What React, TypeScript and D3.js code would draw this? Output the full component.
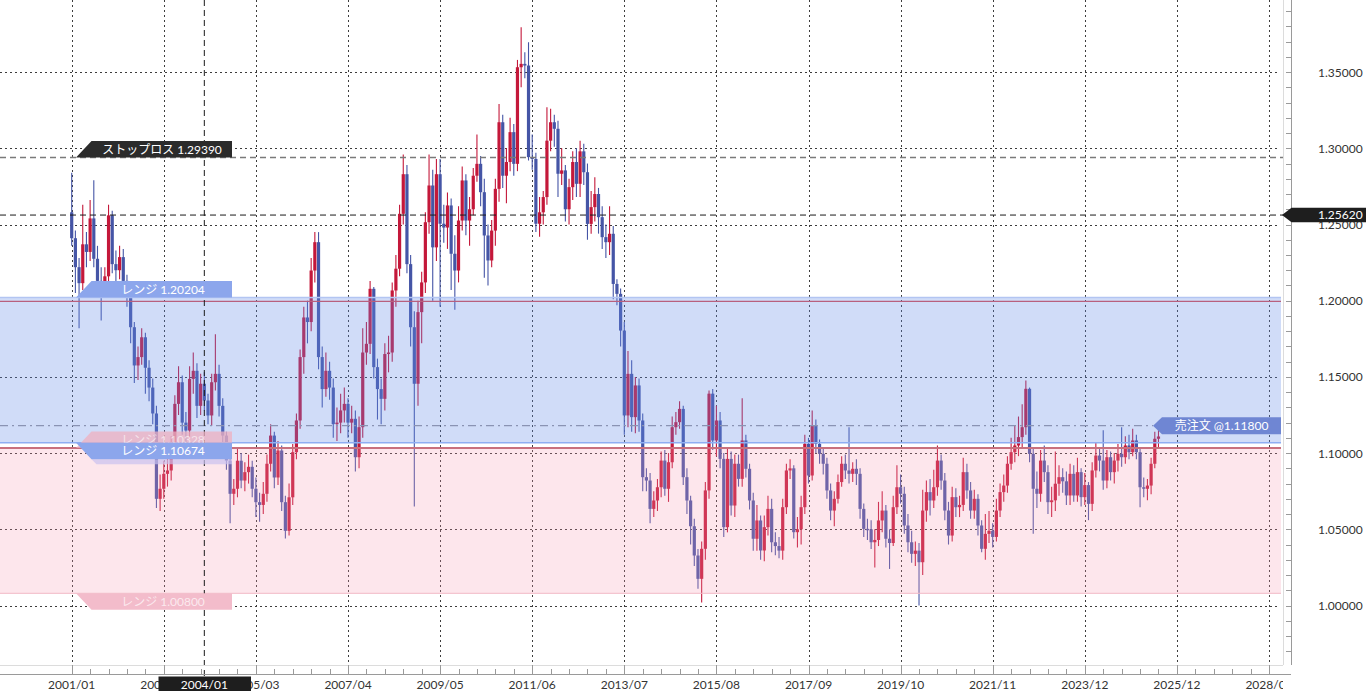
import React from "react";
import * as d3 from "d3";

// ---- data (monthly candles, 2001/01 ...) ----
const firstOpen = 1.258;
const closes = [
  1.241, 1.222, 1.2115, 1.237, 1.232, 1.254, 1.2275, 1.213, 1.21, 1.216,
  1.256, 1.224, 1.22, 1.2286, 1.213, 1.203, 1.1826, 1.1575, 1.163, 1.176,
  1.156, 1.143, 1.126, 1.07, 1.0766, 1.0864, 1.0886, 1.1028, 1.1323, 1.1465,
  1.12, 1.1148, 1.1487, 1.154, 1.131, 1.1455, 1.1345, 1.1247, 1.1465, 1.152,
  1.131, 1.1115, 1.095, 1.0733, 1.0766, 1.095, 1.082, 1.0875, 1.091, 1.0766,
  1.0678, 1.066, 1.0733, 1.093, 1.1115, 1.084, 1.1017, 1.0678, 1.049, 1.071,
  1.1006, 1.1214, 1.163, 1.189, 1.186, 1.2198, 1.2384, 1.163, 1.142, 1.154,
  1.143, 1.119, 1.12, 1.128, 1.1323, 1.12, 1.1225, 1.0973, 1.117, 1.166,
  1.1717, 1.2078, 1.1564, 1.142, 1.1356, 1.165, 1.166, 1.2067, 1.221, 1.257,
  1.283, 1.224, 1.1826, 1.1455, 1.1925, 1.212, 1.2515, 1.2756, 1.235, 1.283,
  1.2505, 1.248, 1.2625, 1.2308, 1.2198, 1.2526, 1.2789, 1.2526, 1.26, 1.282,
  1.2898, 1.2712, 1.2428, 1.2264, 1.246, 1.2734, 1.3171, 1.282, 1.291, 1.3106,
  1.2898, 1.3532, 1.3554, 1.3543, 1.2942, 1.293, 1.2505, 1.258, 1.268, 1.305,
  1.3171, 1.3128, 1.2833, 1.2855, 1.26, 1.2745, 1.291, 1.2767, 1.298, 1.2843,
  1.2504, 1.2614, 1.27, 1.2548, 1.2417, 1.2384, 1.2439, 1.211, 1.2045, 1.1804,
  1.1247, 1.152, 1.1236, 1.1444, 1.1214, 1.0842, 1.082, 1.0634, 1.0689, 1.0776,
  1.0951, 1.0766, 1.094, 1.117, 1.1203, 1.129, 1.0842, 1.0689, 1.052, 1.0328,
  1.0175, 1.0372, 1.0755, 1.139, 1.1083, 1.1214, 1.0962, 1.0514, 1.0962, 1.0656,
  1.093, 1.0831, 1.1083, 1.0897, 1.0689, 1.0438, 1.0558, 1.0361, 1.0514, 1.0634,
  1.0415, 1.039, 1.036, 1.0645, 1.0886, 1.09, 1.0481, 1.05, 1.0645, 1.1061,
  1.0853, 1.1181, 1.1061, 1.0995, 1.093, 1.0755, 1.0623, 1.07, 1.081, 1.093,
  1.0886, 1.0864, 1.0897, 1.0864, 1.0634, 1.0503, 1.05, 1.0415, 1.043, 1.0558,
  1.0623, 1.0438, 1.041, 1.0645, 1.0776, 1.0733, 1.0525, 1.0415, 1.0339, 1.036,
  1.0284, 1.0623, 1.0744, 1.0689, 1.0776, 1.0951, 1.082, 1.0623, 1.0459, 1.0711,
  1.0645, 1.066, 1.0875, 1.0755, 1.0623, 1.07, 1.0525, 1.0372, 1.047, 1.049,
  1.045, 1.0623, 1.0744, 1.0787, 1.093, 1.1006, 1.105, 1.1105, 1.117, 1.1422,
  1.0995, 1.0766, 1.0733, 1.0951, 1.0875, 1.0678, 1.069, 1.0799, 1.0842, 1.0815,
  1.0722, 1.0864, 1.0722, 1.0875, 1.0711, 1.079, 1.0667, 1.0886, 1.0984, 1.0951,
  1.082, 1.0973, 1.0875, 1.0951, 1.0995, 1.0973, 1.105, 1.1006, 1.1083, 1.1006,
  1.0776, 1.0766, 1.0787, 1.093, 1.1094, 1.1109,
];
const highs = [
  1.284, 1.246, 1.228, 1.263, 1.245, 1.266, 1.279, 1.236, 1.222, 1.222,
  1.263, 1.259, 1.233, 1.236, 1.234, 1.217, 1.205, 1.186, 1.17, 1.182,
  1.179, 1.161, 1.149, 1.131, 1.086, 1.095, 1.101, 1.111, 1.138, 1.157,
  1.151, 1.127, 1.157, 1.166, 1.159, 1.152, 1.153, 1.139, 1.152, 1.178,
  1.158, 1.136, 1.114, 1.099, 1.083, 1.104, 1.1, 1.094, 1.099, 1.095,
  1.084, 1.074, 1.081, 1.099, 1.119, 1.114, 1.108, 1.105, 1.072, 1.08,
  1.106, 1.126, 1.168, 1.196, 1.2, 1.228, 1.245, 1.245, 1.17, 1.166,
  1.16, 1.149, 1.13, 1.139, 1.143, 1.136, 1.131, 1.128, 1.124, 1.182,
  1.186, 1.213, 1.209, 1.162, 1.149, 1.172, 1.177, 1.212, 1.23, 1.263,
  1.296, 1.289, 1.23, 1.193, 1.2, 1.219, 1.258, 1.296, 1.286, 1.293,
  1.293, 1.263, 1.271, 1.267, 1.243, 1.262, 1.288, 1.283, 1.268, 1.287,
  1.309, 1.295, 1.28, 1.25, 1.253, 1.28, 1.329, 1.322, 1.3, 1.32,
  1.316, 1.358, 1.3795, 1.363, 1.3696, 1.309, 1.297, 1.268, 1.272, 1.327,
  1.326, 1.322, 1.318, 1.3, 1.289, 1.28, 1.298, 1.3, 1.305, 1.303,
  1.29, 1.272, 1.281, 1.274, 1.262, 1.25, 1.262, 1.249, 1.214, 1.208,
  1.186, 1.167, 1.161, 1.15, 1.149, 1.126, 1.09, 1.087, 1.075, 1.083,
  1.101, 1.102, 1.1, 1.124, 1.127, 1.134, 1.131, 1.09, 1.072, 1.057,
  1.037, 1.042, 1.081, 1.141, 1.142, 1.131, 1.127, 1.1, 1.104, 1.101,
  1.099, 1.099, 1.136, 1.112, 1.093, 1.074, 1.066, 1.059, 1.059, 1.072,
  1.07, 1.048, 1.045, 1.07, 1.093, 1.096, 1.092, 1.058, 1.072, 1.112,
  1.11, 1.128, 1.122, 1.109, 1.103, 1.097, 1.08, 1.075, 1.086, 1.098,
  1.099, 1.117, 1.094, 1.096, 1.09, 1.067, 1.057, 1.056, 1.05, 1.068,
  1.075, 1.066, 1.05, 1.072, 1.092, 1.086, 1.078, 1.06, 1.049, 1.042,
  1.041, 1.076, 1.082, 1.083, 1.089, 1.105, 1.099, 1.087, 1.068, 1.078,
  1.077, 1.072, 1.097, 1.093, 1.081, 1.076, 1.073, 1.056, 1.06, 1.062,
  1.054, 1.07, 1.08, 1.086, 1.098, 1.11, 1.118, 1.124, 1.132, 1.1476,
  1.143, 1.104, 1.088, 1.102, 1.105, 1.092, 1.078, 1.101, 1.092, 1.09,
  1.088, 1.093, 1.092, 1.097, 1.09, 1.087, 1.081, 1.094, 1.107, 1.104,
  1.115, 1.102, 1.101, 1.1, 1.106, 1.117, 1.111, 1.112, 1.116, 1.112,
  1.104, 1.084, 1.083, 1.097, 1.114, 1.116,
];
const lows = [
  1.236, 1.205, 1.182, 1.207, 1.222, 1.226, 1.222, 1.206, 1.187, 1.205,
  1.207, 1.218, 1.211, 1.214, 1.207, 1.196, 1.172, 1.146, 1.148, 1.158,
  1.139, 1.134, 1.119, 1.064, 1.062, 1.07, 1.078, 1.082, 1.099, 1.125,
  1.112, 1.105, 1.11, 1.139, 1.123, 1.125, 1.128, 1.119, 1.118, 1.141,
  1.124, 1.104, 1.089, 1.054, 1.066, 1.071, 1.077, 1.075, 1.08, 1.071,
  1.058, 1.055, 1.06, 1.068, 1.088, 1.077, 1.079, 1.062, 1.044, 1.046,
  1.066, 1.096, 1.116, 1.152, 1.172, 1.18, 1.212, 1.155, 1.13, 1.137,
  1.135, 1.11, 1.108, 1.113, 1.12, 1.11, 1.113, 1.088, 1.09, 1.11,
  1.158, 1.165, 1.149, 1.122, 1.119, 1.128, 1.153, 1.16, 1.196, 1.216,
  1.25, 1.218, 1.17, 1.065, 1.131, 1.172, 1.205, 1.244, 1.2, 1.226,
  1.196, 1.238, 1.234, 1.207, 1.194, 1.212, 1.246, 1.243, 1.236, 1.256,
  1.278, 1.262, 1.215, 1.21, 1.222, 1.236, 1.265, 1.274, 1.264, 1.285,
  1.282, 1.285, 1.34, 1.346, 1.292, 1.286, 1.245, 1.242, 1.25, 1.263,
  1.298, 1.301, 1.268, 1.276, 1.252, 1.25, 1.266, 1.268, 1.268, 1.276,
  1.24, 1.244, 1.252, 1.244, 1.234, 1.228, 1.23, 1.201, 1.197, 1.17,
  1.112, 1.117, 1.114, 1.113, 1.114, 1.075, 1.075, 1.054, 1.058, 1.062,
  1.071, 1.072, 1.068, 1.09, 1.112, 1.116, 1.079, 1.06, 1.04, 1.026,
  1.011, 1.002, 1.03, 1.07, 1.102, 1.098, 1.09, 1.045, 1.048, 1.059,
  1.058, 1.078, 1.078, 1.084, 1.063, 1.036, 1.036, 1.03, 1.029, 1.046,
  1.035, 1.033, 1.031, 1.03, 1.06, 1.083, 1.044, 1.038, 1.04, 1.06,
  1.08, 1.082, 1.1, 1.093, 1.086, 1.07, 1.056, 1.052, 1.067, 1.078,
  1.083, 1.08, 1.081, 1.079, 1.057, 1.045, 1.043, 1.037, 1.025, 1.039,
  1.048, 1.038, 1.024, 1.039, 1.06, 1.067, 1.047, 1.035, 1.028, 1.026,
  1.0, 1.02, 1.055, 1.059, 1.064, 1.072, 1.076, 1.056, 1.04, 1.042,
  1.058, 1.058, 1.062, 1.07, 1.057, 1.057, 1.046, 1.035, 1.03, 1.041,
  1.038, 1.042, 1.058, 1.068, 1.074, 1.089, 1.094, 1.098, 1.103, 1.112,
  1.094, 1.047, 1.064, 1.068, 1.081, 1.06, 1.058, 1.062, 1.072, 1.074,
  1.066, 1.066, 1.068, 1.068, 1.065, 1.066, 1.056, 1.062, 1.084, 1.088,
  1.076, 1.077, 1.082, 1.08, 1.088, 1.091, 1.093, 1.096, 1.098, 1.096,
  1.0645, 1.071, 1.069, 1.073, 1.09, 1.104,
];

const xTickLabels = [
  "2001/01", "2003/02", "2005/03", "2007/04", "2009/05", "2011/06", "2013/07",
  "2015/08", "2017/09", "2019/10", "2021/11", "2023/12", "2025/12", "2028/01",
];
const yTickValues = [1.0, 1.05, 1.1, 1.15, 1.2, 1.25, 1.3, 1.35];

const stopLoss = 1.2939;
const crossPrice = 1.2562;
const crossSlot = 36;
const crossDate = "2004/01";
const rangeBlue = [1.10674, 1.20204];
const rangePink = [1.008, 1.10328];
const rangeMark = 1.1995;
const sellOrder = 1.118;

// ---- layout ----
const W = 1366;
const H = 691;
const plotRight = 1283;
const plotBottom = 665;
const axisX = 1291;
const axisY = 674;
const slotsPerTick = 25;

const RED = "#c4183a";
const BLUE = "#4555a6";
const FONT = "Lato, 'Noto Sans CJK JP', sans-serif";

export default function App() {
  const x = d3.scaleLinear().domain([0, 325]).range([71.7, 1269]);
  const y = d3.scaleLinear().domain([1.0, 1.35]).range([605.5, 72.1]);

  const candles = closes.map((c, i) => {
    const o = i === 0 ? firstOpen : closes[i - 1];
    const h = Math.max(highs[i], o, c);
    const l = Math.min(lows[i], o, c);
    return { i, o, c, h, l };
  });

  const minorY = d3.range(97, 140).map((v) => v / 100);
  const minorX = d3.range(0, 330, 5);
  const majorX = xTickLabels.map((_, k) => k * slotsPerTick);

  const yS = y(stopLoss);
  const yC = y(crossPrice);
  const xC = x(crossSlot);
  const yBT = y(rangeBlue[1]);
  const yBB = y(rangeBlue[0]);
  const yPT = y(rangePink[1]);
  const yPB = y(rangePink[0]);
  const yO = y(sellOrder);

  const tagX0 = 76;
  const tagX1 = 232;
  const slant = 15.5;
  const tagH = 16.5;

  const tagAbove = (yb: number) =>
    `${tagX0},${yb} ${tagX0 + slant},${yb - tagH} ${tagX1},${yb - tagH} ${tagX1},${yb}`;
  const tagBelow = (yt: number) =>
    `${tagX0},${yt} ${tagX0 + slant},${yt + tagH} ${tagX1},${yt + tagH} ${tagX1},${yt}`;

  return (
    <svg
      width={W}
      height={H}
      style={{ position: "absolute", left: 0, top: 0, display: "block", background: "#fff" }}
      fontFamily={FONT}
    >
      <defs>
        <clipPath id="xlab">
          <rect x={0} y={670} width={plotRight} height={30} />
        </clipPath>
      </defs>
      <rect x={0} y={0} width={W} height={H} fill="#fff" />

      {/* grid */}
      <g stroke="#3c3c3c" strokeWidth={1} strokeDasharray="2,3" shapeRendering="crispEdges">
        {yTickValues.map((v) => (
          <line key={"gy" + v} x1={0} x2={plotRight - 4} y1={Math.round(y(v)) + 0.5} y2={Math.round(y(v)) + 0.5} />
        ))}
        {majorX.map((s) => (
          <line key={"gx" + s} x1={Math.round(x(s)) + 0.5} x2={Math.round(x(s)) + 0.5} y1={0} y2={plotBottom} />
        ))}
      </g>

      {/* candles */}
      <g>
        {candles.map((d) => {
          const cx = x(d.i);
          const up = d.c >= d.o;
          const col = up ? RED : BLUE;
          const top = y(Math.max(d.o, d.c));
          const bot = y(Math.min(d.o, d.c));
          return (
            <g key={d.i}>
              <line x1={cx} x2={cx} y1={y(d.h)} y2={y(d.l)} stroke={col} strokeWidth={1.1} />
              <rect x={cx - 1.6} y={top} width={3.2} height={Math.max(1.4, bot - top)} fill={col} />
            </g>
          );
        })}
      </g>

      {/* range bands */}
      <rect x={0} y={yBT} width={plotRight - 2} height={yBB - yBT} fill="rgb(98,138,232)" fillOpacity={0.3} />
      <rect x={0} y={yPT} width={plotRight - 2} height={yPB - yPT} fill="rgb(246,150,175)" fillOpacity={0.24} />
      <line x1={0} x2={plotRight - 2} y1={yBT} y2={yBT} stroke="#b3c5f2" strokeWidth={1.5} />
      <line x1={0} x2={plotRight - 2} y1={y(rangeMark)} y2={y(rangeMark)} stroke="#b8607e" strokeWidth={1.2} />
      <line x1={0} x2={plotRight - 2} y1={yBB} y2={yBB} stroke="#8eaef2" strokeWidth={1.5} />
      <line x1={0} x2={plotRight - 2} y1={yPT} y2={yPT} stroke="#c8707e" strokeWidth={2} />
      <line x1={0} x2={plotRight - 2} y1={yPB} y2={yPB} stroke="#f2b8c6" strokeWidth={1} />

      {/* level lines */}
      <line x1={0} x2={plotRight} y1={yS} y2={yS} stroke="#7a7a7a" strokeWidth={1.5} strokeDasharray="6,4" />
      <line x1={0} x2={1153} y1={yO} y2={yO} stroke="#8a93b3" strokeWidth={1.2} strokeDasharray="8,4,2,4" />
      <line x1={0} x2={plotRight} y1={yC} y2={yC} stroke="#1a1a1a" strokeWidth={1} strokeDasharray="6,4" />
      <line x1={xC} x2={xC} y1={0} y2={676} stroke="#1a1a1a" strokeWidth={1} strokeDasharray="6,4" />

      {/* tags */}
      <g fontSize={12} textAnchor="middle">
        <polygon points={tagAbove(yS)} fill="#2b2b2b" />
        <text x={162} y={yS - 4} fill="#fff">ストップロス 1.29390</text>

        <polygon points={tagAbove(yBT)} fill="#8ca6ec" />
        <text x={163} y={yBT - 4} fill="#fff">レンジ 1.20204</text>

        <polygon points={tagAbove(yPT)} fill="#efb0c0" fillOpacity={0.75} />
        <text x={163} y={yPT - 4} fill="#fff" fillOpacity={0.6}>レンジ 1.10328</text>

        <polygon
          points={`${tagX0 + slant},${yBB + tagH} ${tagX0 + slant + 5},${yBB + tagH + 5} ${tagX1},${yBB + tagH + 5} ${tagX1},${yBB + tagH}`}
          fill="#c9c1f0"
          fillOpacity={0.7}
        />
        <polygon points={tagBelow(yBB)} fill="#8ca6ec" />
        <text x={163} y={yBB + 12.5} fill="#fff">レンジ 1.10674</text>

        <polygon points={tagBelow(yPB)} fill="#f3bccb" />
        <text x={163} y={yPB + 12.5} fill="#fff" fillOpacity={0.7}>レンジ 1.00800</text>

        <polygon
          points={`1153,${yO} 1162,${yO - 8.5} 1281,${yO - 8.5} 1281,${yO + 8.5} 1162,${yO + 8.5}`}
          fill="#6f86d3"
        />
        <text x={1221.5} y={yO + 4.5} fill="#fff">売注文 @1.11800</text>
      </g>

      {/* plot borders */}
      <line x1={plotRight + 0.5} x2={plotRight + 0.5} y1={0} y2={plotBottom} stroke="#dcdcdc" />
      <line x1={0} x2={plotRight} y1={plotBottom + 0.5} y2={plotBottom + 0.5} stroke="#dcdcdc" />

      {/* right axis */}
      <line x1={axisX + 0.5} x2={axisX + 0.5} y1={0} y2={plotBottom} stroke="#9a9a9a" />
      <g stroke="#9a9a9a" shapeRendering="crispEdges">
        {minorY.map((v) => (
          <line key={"ty" + v} x1={axisX - 5} x2={axisX} y1={Math.round(y(v)) + 0.5} y2={Math.round(y(v)) + 0.5} />
        ))}
      </g>
      <g fontSize={12} fill="#333">
        {yTickValues.map((v) => (
          <text key={"ly" + v} x={1318} y={y(v) + 4.5}>
            {d3.format(".5f")(v)}
          </text>
        ))}
      </g>

      {/* bottom axis */}
      <line x1={0} x2={axisX} y1={axisY + 0.5} y2={axisY + 0.5} stroke="#9a9a9a" />
      <g stroke="#9a9a9a" shapeRendering="crispEdges">
        {minorX.map((s) => (
          <line
            key={"tx" + s}
            x1={Math.round(x(s)) + 0.5}
            x2={Math.round(x(s)) + 0.5}
            y1={s % slotsPerTick === 0 ? plotBottom : axisY - 5}
            y2={axisY}
          />
        ))}
      </g>
      <g fontSize={12} fill="#333" textAnchor="middle" clipPath="url(#xlab)">
        {xTickLabels.map((t, k) => (
          <text key={t} x={x(k * slotsPerTick)} y={688.5}>
            {t}
          </text>
        ))}
      </g>

      {/* crosshair labels */}
      <polygon
        points={`1282,${yC} 1291.5,${yC - 7.2} 1366,${yC - 7.2} 1366,${yC + 7.2} 1291.5,${yC + 7.2}`}
        fill="#1e1e1e"
      />
      <text x={1318} y={yC + 4.3} fontSize={12} fill="#fff">
        {d3.format(".5f")(crossPrice)}
      </text>
      <rect x={158.5} y={676.5} width={92.5} height={15} fill="#1e1e1e" />
      <text x={xC} y={689} fontSize={12} fill="#fff" textAnchor="middle">
        {crossDate}
      </text>
    </svg>
  );
}
